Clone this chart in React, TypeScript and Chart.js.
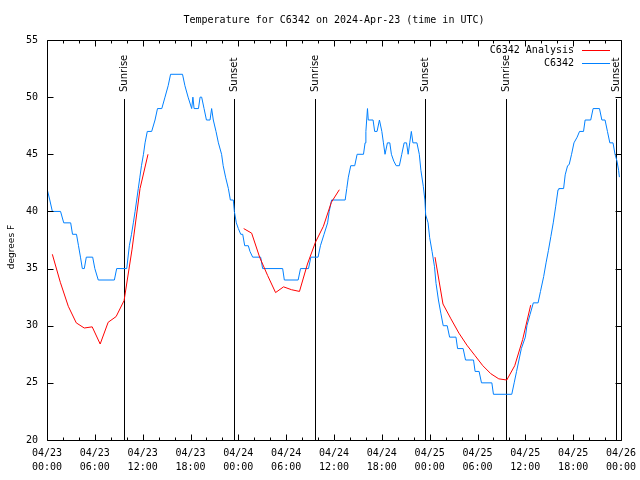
import React, { useEffect, useRef } from 'react';
import { Chart, registerables } from 'chart.js';

Chart.register(...registerables);

const titleText = 'Temperature for C6342 on 2024-Apr-23 (time in UTC)';
const yAxisLabel = 'degrees F';

const tickDates = ['04/23', '04/23', '04/23', '04/23', '04/24', '04/24', '04/24', '04/24', '04/25', '04/25', '04/25', '04/25', '04/26'];
const tickTimes = ['00:00', '06:00', '12:00', '18:00', '00:00', '06:00', '12:00', '18:00', '00:00', '06:00', '12:00', '18:00', '00:00'];
const xMajorHours = [0, 6, 12, 18, 24, 30, 36, 42, 48, 54, 60, 66, 72];
const xMinorHours = [2, 4, 8, 10, 14, 16, 20, 22, 26, 28, 32, 34, 38, 40, 44, 46, 50, 52, 56, 58, 62, 64, 68, 70];
const yTickValues = [20, 25, 30, 35, 40, 45, 50, 55];

const sunriseHours = [9.6, 33.65, 57.6];
const sunsetHours = [23.4, 47.45, 71.4];

const observedLabel = 'C6342';
const analysisLabel = 'C6342 Analysis';

const observedHours = [
  0.0, 0.35, 0.67, 1.7, 2.1, 2.97, 3.2, 3.7, 3.95, 4.2, 4.43, 4.68, 4.93, 5.73, 6.0, 6.43, 8.45, 8.74, 10.0,
  10.33, 10.6, 10.83, 11.05, 11.25, 11.45, 11.65, 11.85, 12.1, 12.3, 12.58, 13.13, 13.55, 13.86, 14.4, 14.8,
  15.2, 15.5, 17.0, 17.3, 17.7, 18.15, 18.3, 18.45, 19.0, 19.2, 19.4, 19.7, 20.0, 20.45, 20.65, 20.86, 21.2,
  21.5, 21.9, 22.1, 22.4, 22.75, 23.0, 23.37, 23.5, 23.75, 24.0, 24.3, 24.55, 24.8, 25.25, 25.46, 25.8, 26.8,
  27.05, 29.56, 29.77, 31.5, 31.8, 32.8, 33.1, 34.0, 34.3, 34.75, 35.2, 35.4, 35.7, 37.4, 37.6, 37.8, 38.1,
  38.6, 38.9, 39.7, 39.9, 40.0, 40.2, 40.3, 40.9, 41.1, 41.4, 41.7, 42.0, 42.2, 42.4, 42.7, 43.0, 43.2, 43.5,
  43.8, 44.2, 44.5, 44.8, 45.1, 45.3, 45.5, 45.7, 45.9, 46.4, 46.7, 46.9, 47.2, 47.4, 47.5, 47.8, 48.0, 48.3,
  48.6, 48.8, 49.1, 49.4, 49.7, 50.2, 50.5, 51.3, 51.5, 52.2, 52.5, 53.5, 53.7, 54.2, 54.5, 55.8, 56.0, 58.3,
  58.6, 58.9, 59.2, 59.5, 60.0, 60.2, 60.6, 61.0, 61.6, 61.9, 62.3, 62.6, 62.9, 63.2, 63.5, 63.8, 64.1, 64.2,
  64.8, 65.0, 65.3, 65.5, 65.8, 66.1, 66.5, 66.8, 67.3, 67.5, 68.2, 68.5, 69.3, 69.6, 70.0, 70.3, 70.6, 71.0,
  71.25, 71.5, 71.7, 71.8,
];
const observedTemps = [
  42, 41, 40, 40, 39, 39, 38, 38, 37, 36, 35, 35, 36, 36, 35, 34, 34, 35, 35,
  37, 38, 39, 40, 41, 42, 43, 44, 45, 46, 47, 47, 48, 49, 49, 50,
  51, 52, 52, 51, 50, 49, 50, 49, 49, 50, 50, 49, 48, 48, 49, 48, 47,
  46, 45, 44, 43, 42, 41, 41, 40, 39, 38.5, 38, 38, 37, 37, 36.5, 36, 36,
  35, 35, 34, 34, 35, 35, 36, 36, 37, 38, 39, 40, 41, 41, 42, 43, 44,
  44, 45, 45, 46, 47, 49, 48, 48, 47, 47, 48, 47, 46, 45, 46, 46, 45, 44.4,
  44, 44, 45, 46, 46, 45, 46, 47, 46, 46, 45, 43.6, 42.2, 41, 39.7, 39, 37.7, 36.5,
  35.2, 33.7, 32.25, 31.1, 30, 30, 29, 29, 28, 28, 27, 27, 26, 26, 25, 25, 24, 24,
  25, 26, 27, 28, 29, 30, 31, 32, 32, 33, 34.3, 35.5, 36.6, 37.8, 39, 40.4, 41.9, 42,
  42, 43.2, 44, 44.1, 45, 46, 46.5, 47, 47, 48, 48, 49, 49, 48, 48, 47, 46, 46,
  45, 44.4, 43.6, 43,
];

const analysisHoursDay1 = [0.67, 1.67, 2.67, 3.67, 4.67, 5.67, 6.67, 7.67, 8.67, 9.67, 10.67, 11.67, 12.67];
const analysisTempsDay1 = [36.25, 33.8, 31.7, 30.25, 29.8, 29.9, 28.4, 30.3, 30.8, 32.2, 36.7, 42.0, 45.0];
const analysisHoursDay2 = [24.67, 25.67, 26.67, 27.67, 28.67, 29.67, 30.67, 31.67, 32.67, 33.67, 34.67, 35.67, 36.67];
const analysisTempsDay2 = [38.5, 38.1, 36.0, 34.4, 32.9, 33.4, 33.15, 33.0, 35.4, 37.3, 38.7, 40.8, 41.9];
const analysisHoursDay3 = [48.67, 49.67, 50.67, 51.67, 52.67, 53.67, 54.67, 55.67, 56.67, 57.67, 58.67, 59.67, 60.67];
const analysisTempsDay3 = [36.0, 31.9, 30.6, 29.35, 28.3, 27.4, 26.5, 25.8, 25.35, 25.25, 26.5, 28.8, 31.8];

const RED = '#ff0000';
const BLUE = '#0080ff';
const MONO = '"DejaVu Sans Mono", monospace';
const SANS = '"DejaVu Sans", sans-serif';

const toPoints = (hs: number[], ts: number[]) => hs.map((h, i) => ({ x: h, y: ts[i] }));

const overlayPlugin = {
  id: 'gnuplotOverlay',
  beforeDatasetsDraw(chart: any) {
    const { ctx, chartArea, scales } = chart;
    const xs = scales.x;
    ctx.save();
    ctx.strokeStyle = '#000';
    ctx.fillStyle = '#000';
    ctx.lineWidth = 1;
    ctx.font = '10px ' + SANS;
    const drawSun = (hours: number[], label: string) => {
      hours.forEach((h) => {
        const px = Math.round(xs.getPixelForValue(h)) + 0.5;
        ctx.beginPath();
        ctx.moveTo(px, chartArea.top + 59);
        ctx.lineTo(px, chartArea.bottom);
        ctx.stroke();
        ctx.save();
        ctx.translate(px, chartArea.top + 52);
        ctx.rotate(-Math.PI / 2);
        ctx.textAlign = 'left';
        ctx.textBaseline = 'middle';
        ctx.fillText(label, 0, 0);
        ctx.restore();
      });
    };
    drawSun(sunriseHours, 'Sunrise');
    drawSun(sunsetHours, 'Sunset');
    ctx.restore();
  },
  afterDraw(chart: any) {
    const { ctx, chartArea, scales } = chart;
    const xs = scales.x;
    const ys = scales.y;
    const L = Math.round(chartArea.left) + 0.5;
    const R = Math.round(chartArea.right) + 0.5;
    const T = Math.round(chartArea.top) + 0.5;
    const B = Math.round(chartArea.bottom) + 0.5;
    ctx.save();
    ctx.strokeStyle = '#000';
    ctx.fillStyle = '#000';
    ctx.lineWidth = 1;
    ctx.beginPath();
    ctx.rect(L, T, R - L, B - T);
    ctx.stroke();

    const xTick = (h: number, len: number) => {
      const px = Math.round(xs.getPixelForValue(h)) + 0.5;
      ctx.beginPath();
      ctx.moveTo(px, B);
      ctx.lineTo(px, B - len);
      ctx.moveTo(px, T);
      ctx.lineTo(px, T + len);
      ctx.stroke();
    };
    xMajorHours.forEach((h) => xTick(h, 6));
    xMinorHours.forEach((h) => xTick(h, 3));
    yTickValues.forEach((v) => {
      const py = Math.round(ys.getPixelForValue(v)) + 0.5;
      ctx.beginPath();
      ctx.moveTo(L, py);
      ctx.lineTo(L + 6, py);
      ctx.moveTo(R, py);
      ctx.lineTo(R - 6, py);
      ctx.stroke();
    });

    // title
    ctx.font = '10px ' + MONO;
    ctx.textAlign = 'center';
    ctx.textBaseline = 'middle';
    ctx.fillText(titleText, (chartArea.left + chartArea.right) / 2, chartArea.top - 20);

    // y axis label
    ctx.save();
    ctx.font = '9px ' + SANS;
    ctx.translate(12, (chartArea.top + chartArea.bottom) / 2 + 7);
    ctx.rotate(-Math.PI / 2);
    ctx.textAlign = 'center';
    ctx.textBaseline = 'middle';
    ctx.fillText(yAxisLabel, 0, 0);
    ctx.restore();

    // legend
    ctx.font = '10px ' + MONO;
    ctx.textAlign = 'right';
    ctx.textBaseline = 'middle';
    chart.data.datasets.forEach((ds: any, i: number) => {
      const ly = chartArea.top + 10 + i * 13;
      ctx.fillStyle = '#000';
      ctx.fillText(ds.label, chartArea.right - 47, ly);
      ctx.strokeStyle = ds.borderColor;
      ctx.beginPath();
      ctx.moveTo(chartArea.right - 39, Math.round(ly) + 0.5);
      ctx.lineTo(chartArea.right - 11, Math.round(ly) + 0.5);
      ctx.stroke();
    });
    ctx.restore();
  },
};

export default function App() {
  const canvasRef = useRef<HTMLCanvasElement | null>(null);

  useEffect(() => {
    document.body.style.margin = '0';
    const canvas = canvasRef.current;
    if (!canvas) return;
    const analysisData = [
      ...toPoints(analysisHoursDay1, analysisTempsDay1),
      { x: 18, y: null },
      ...toPoints(analysisHoursDay2, analysisTempsDay2),
      { x: 42, y: null },
      ...toPoints(analysisHoursDay3, analysisTempsDay3),
    ];
    const chart = new Chart(canvas, {
      type: 'line',
      data: {
        datasets: [
          {
            label: analysisLabel,
            data: analysisData as any,
            borderColor: RED,
            backgroundColor: RED,
            borderWidth: 1,
            pointRadius: 0,
            tension: 0,
            spanGaps: false,
          },
          {
            label: observedLabel,
            data: toPoints(observedHours, observedTemps),
            borderColor: BLUE,
            backgroundColor: BLUE,
            borderWidth: 1,
            pointRadius: 0,
            tension: 0,
          },
        ],
      },
      options: {
        animation: false,
        responsive: false,
        devicePixelRatio: 1,
        events: [],
        layout: { padding: { top: 40, right: 19, left: 0, bottom: 0 } },
        plugins: {
          legend: { display: false },
          title: { display: false },
          tooltip: { enabled: false },
        },
        scales: {
          x: {
            type: 'linear',
            min: 0,
            max: 72,
            grid: { display: false, drawTicks: false },
            border: { display: false },
            ticks: {
              stepSize: 6,
              autoSkip: false,
              maxRotation: 0,
              minRotation: 0,
              padding: 6,
              color: '#000',
              font: { family: MONO, size: 10, lineHeight: 1.4 },
              callback: (v: any) => {
                const i = Math.round(Number(v) / 6);
                return [tickDates[i], tickTimes[i]];
              },
            },
            afterFit: (s: any) => {
              s.height = 40;
              s.paddingLeft = 0;
              s.paddingRight = 0;
            },
          },
          y: {
            min: 20,
            max: 55,
            grid: { display: false, drawTicks: false },
            border: { display: false },
            ticks: {
              stepSize: 5,
              padding: 9,
              color: '#000',
              font: { family: MONO, size: 10 },
            },
            afterFit: (s: any) => {
              s.width = 47;
              s.paddingTop = 0;
              s.paddingBottom = 0;
            },
          },
        },
      },
      plugins: [overlayPlugin],
    });
    return () => chart.destroy();
  }, []);

  return (
    <div style={{ width: 640, height: 480, background: '#fff' }}>
      <canvas ref={canvasRef} width={640} height={480} style={{ display: 'block' }} />
    </div>
  );
}
